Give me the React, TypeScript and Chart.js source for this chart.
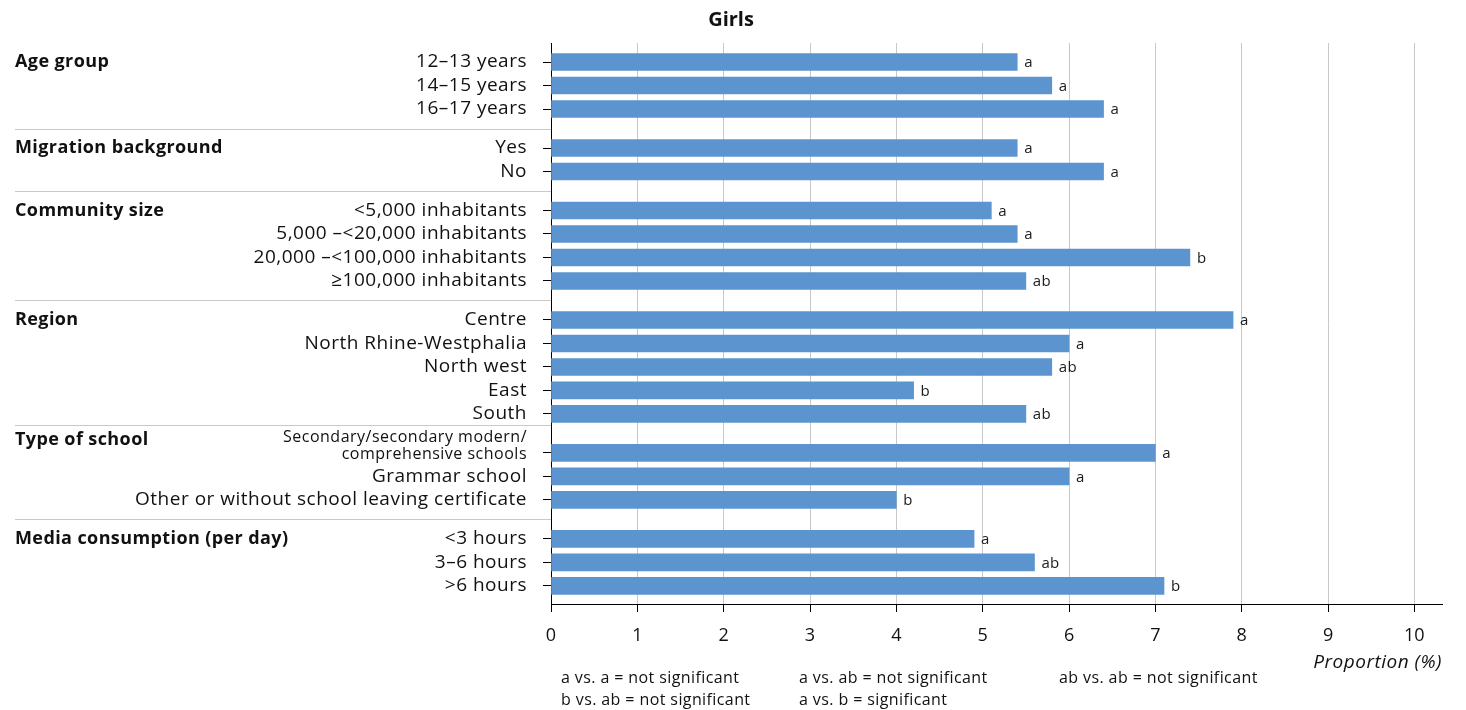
import React, { useEffect, useRef } from "react";
import { Chart, registerables } from "chart.js";

Chart.register(...registerables);

const chartTitle = "Girls";
const groupNames = [
  "Age group",
  "Migration background",
  "Community size",
  "Region",
  "Type of school",
  "Media consumption (per day)",
];
const categories = [
  "12–13 years",
  "14–15 years",
  "16–17 years",
  "Yes",
  "No",
  "<5,000 inhabitants",
  "5,000 –<20,000 inhabitants",
  "20,000 –<100,000 inhabitants",
  "≥100,000 inhabitants",
  "Centre",
  "North Rhine-Westphalia",
  "North west",
  "East",
  "South",
  "Secondary/secondary modern/\ncomprehensive schools",
  "Grammar school",
  "Other or without school leaving certificate",
  "<3 hours",
  "3–6 hours",
  ">6 hours",
];
const categoryGroup = [0, 0, 0, 1, 1, 2, 2, 2, 2, 3, 3, 3, 3, 3, 4, 4, 4, 5, 5, 5];
const values = [5.4, 5.8, 6.4, 5.4, 6.4, 5.1, 5.4, 7.4, 5.5, 7.9, 6.0, 5.8, 4.2, 5.5, 7.0, 6.0, 4.0, 4.9, 5.6, 7.1];
const significance = ["a", "a", "a", "a", "a", "a", "a", "b", "ab", "a", "a", "ab", "b", "ab", "a", "a", "b", "a", "ab", "b"];
const xTicks = [0, 1, 2, 3, 4, 5, 6, 7, 8, 9, 10];
const xAxisTitle = "Proportion (%)";
const legendRows = [
  ["a vs. a = not significant", "a vs. ab = not significant", "ab vs. ab = not significant"],
  ["b vs. ab = not significant", "a vs. b = significant"],
];

const FONT = "'Open Sans', sans-serif";
const GROUP_GAP = 0.66;
const positions = categories.map((_, i) => i + categoryGroup[i] * GROUP_GAP);

const W = 1466;
const H = 710;

function setSpacing(ctx: any, px: number) {
  ctx.letterSpacing = `${px}px`;
}

const annotationPlugin = {
  id: "annotations",
  afterDraw(chart: any) {
    const ctx = chart.ctx as CanvasRenderingContext2D;
    const area = chart.chartArea;
    const xs = chart.scales.x;
    const ys = chart.scales.y;
    ctx.save();

    // Title
    ctx.fillStyle = "#111";
    ctx.font = `bold 20px ${FONT}`;
    setSpacing(ctx, 0);
    ctx.textAlign = "center";
    ctx.textBaseline = "middle";
    ctx.fillText(chartTitle, 731, 20);

    // Category labels
    ctx.textAlign = "right";
    setSpacing(ctx, 0.5);
    categories.forEach((label, i) => {
      const y = ys.getPixelForValue(positions[i]);
      const lines = label.split("\n");
      if (lines.length > 1) {
        ctx.font = `16px ${FONT}`;
        ctx.fillText(lines[0], area.left - 24, y - 16);
        ctx.fillText(lines[1], area.left - 24, y + 1);
      } else {
        ctx.font = `19px ${FONT}`;
        ctx.fillText(label, area.left - 24, y);
      }
    });

    // Group titles and separators
    groupNames.forEach((name, g) => {
      const first = categoryGroup.indexOf(g);
      const firstY = ys.getPixelForValue(positions[first]);
      const multi = categories[first].includes("\n");
      ctx.font = `bold 18px ${FONT}`;
      setSpacing(ctx, 0.4);
      ctx.textAlign = "left";
      ctx.fillStyle = "#111";
      ctx.fillText(name, 15, firstY - (multi ? 13 : 0));
      if (first > 0) {
        const prevY = ys.getPixelForValue(positions[first - 1]);
        const sepY = Math.round((prevY + firstY) / 2 - (multi ? 8 : 0)) + 0.5;
        ctx.strokeStyle = "#c8c8c8";
        ctx.lineWidth = 1;
        ctx.beginPath();
        ctx.moveTo(15, sepY);
        ctx.lineTo(area.left, sepY);
        ctx.stroke();
      }
    });

    // Significance letters
    ctx.font = `15px ${FONT}`;
    setSpacing(ctx, 0.3);
    ctx.textAlign = "left";
    ctx.fillStyle = "#1a1a1a";
    values.forEach((v, i) => {
      const x = xs.getPixelForValue(v);
      const y = ys.getPixelForValue(positions[i]);
      ctx.fillText(significance[i], x + 7, y + 1);
    });

    // Axis title
    ctx.font = `italic 19px ${FONT}`;
    setSpacing(ctx, 0.5);
    ctx.textAlign = "right";
    ctx.fillStyle = "#111";
    ctx.fillText(xAxisTitle, area.right, area.bottom + 59);

    // Legend
    ctx.font = `16px ${FONT}`;
    setSpacing(ctx, 0.4);
    ctx.textAlign = "left";
    const colX = [10, 248, 508];
    legendRows.forEach((row, r) => {
      row.forEach((txt, c) => {
        ctx.fillText(txt, area.left + colX[c], area.bottom + 74 + r * 22);
      });
    });

    ctx.restore();
  },
};

export default function App() {
  const canvasRef = useRef<HTMLCanvasElement | null>(null);

  useEffect(() => {
    if (!canvasRef.current) return;
    const chart = new Chart(canvasRef.current, {
      type: "bar",
      data: {
        datasets: [
          {
            data: values.map((v, i) => ({ x: v, y: positions[i] })) as any,
            backgroundColor: "#5b94ce",
            borderWidth: 0,
            barThickness: 17,
          },
        ],
      },
      options: {
        indexAxis: "y",
        animation: false,
        responsive: false,
        layout: { padding: { top: 43, right: 24, left: 0, bottom: 0 } },
        plugins: {
          legend: { display: false },
          tooltip: { enabled: false },
          title: { display: false },
        },
        scales: {
          x: {
            type: "linear",
            position: "bottom",
            min: 0,
            max: 10.32,
            offset: false,
            afterBuildTicks: (s: any) => {
              s.ticks = xTicks.map((v) => ({ value: v }));
            },
            afterFit: (s: any) => {
              s.height = 106;
            },
            grid: { color: "#c8c8c8", tickColor: "#000", tickLength: 8, lineWidth: 1, offset: false },
            border: { color: "#000", width: 1 },
            ticks: {
              font: { family: FONT, size: 18 },
              color: "#111",
              padding: 13,
              maxRotation: 0,
            },
          },
          y: {
            type: "linear",
            reverse: true,
            offset: false,
            min: -0.81,
            max: positions[positions.length - 1] + 0.77,
            afterBuildTicks: (s: any) => {
              s.ticks = positions.map((v) => ({ value: v }));
            },
            afterFit: (s: any) => {
              s.width = 551;
            },
            ticks: { display: false },
            grid: { drawOnChartArea: false, drawTicks: true, tickLength: 8, color: "#000", offset: false },
            border: { color: "#000", width: 1 },
          },
        },
      } as any,
      plugins: [annotationPlugin],
    });
    return () => chart.destroy();
  }, []);

  return (
    <canvas
      ref={canvasRef}
      width={W}
      height={H}
      style={{ display: "block", position: "fixed", top: 0, left: 0 }}
    />
  );
}
